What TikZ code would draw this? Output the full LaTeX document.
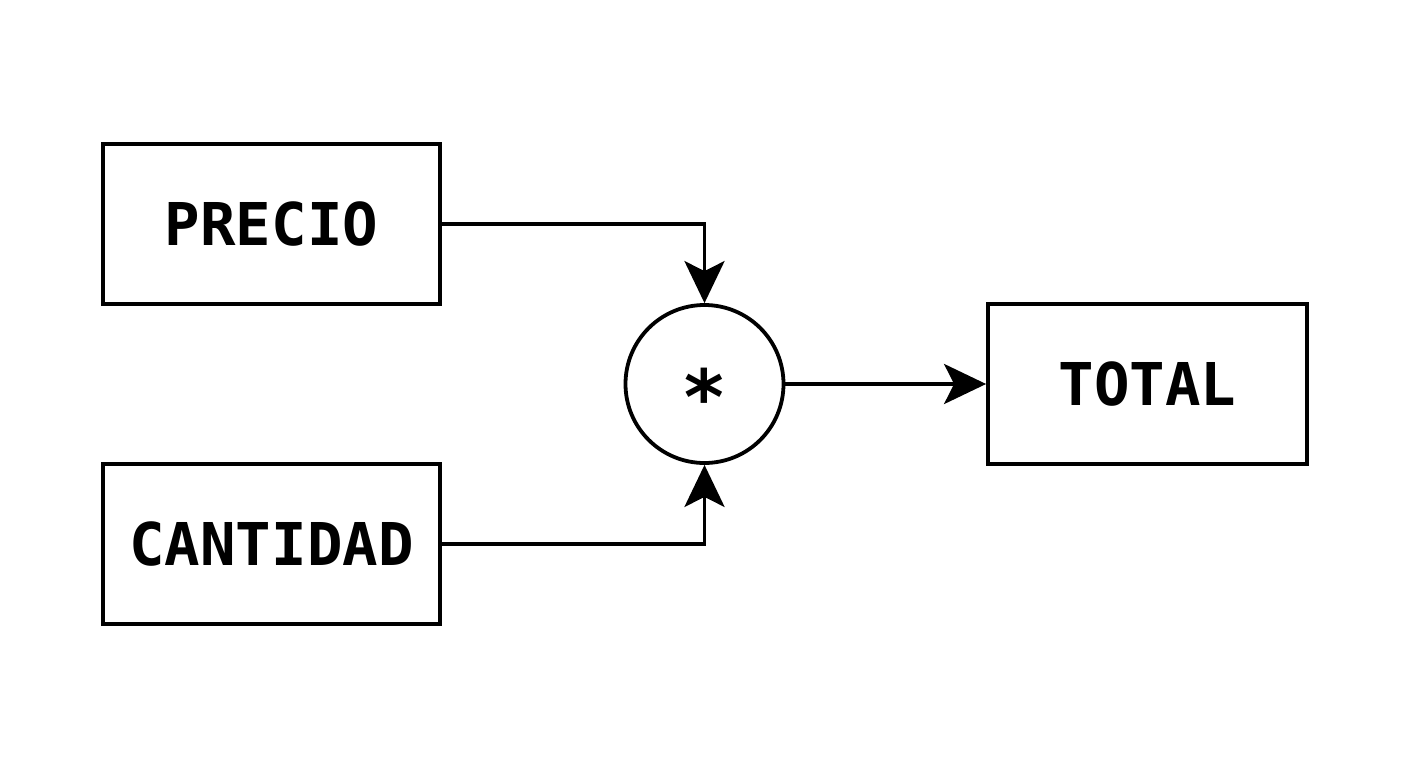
\documentclass[tikz,border=0pt]{standalone}
\usepackage{fontspec}
\setmonofont{DejaVu Sans Mono}
\usetikzlibrary{arrows.meta}
\begin{document}
\begin{tikzpicture}[x=1pt,y=-1pt,
  box/.style={draw=black, line width=3.8pt, minimum width=337pt, minimum height=160pt, inner sep=0pt, font=\ttfamily\bfseries\fontsize{59}{60}\selectfont},
  op/.style={draw=black, circle, line width=3.8pt, minimum size=158pt, inner sep=0pt},
  conn/.style={line width=3.8pt, -{Stealth[length=42pt, width=40pt, inset=10pt]}}]
\useasboundingbox[fill=white] (0,0) rectangle (1408,768);
\node[box] (precio) at (271.5,224) {PRECIO};
\node[box] (cantidad) at (271.5,544) {CANTIDAD};
\node[box, minimum width=319pt] (total) at (1147.5,384) {TOTAL};
\node[op] (mul) at (704.5,384) {};
\node at (704.5,396) [font=\ttfamily\bfseries\fontsize{76}{76}\selectfont] (star) {*};
\draw[conn] (precio.east) -| (mul.north);
\draw[conn] (cantidad.east) -| (mul.south);
\draw[conn] (mul.east) -- (total.west);
\end{tikzpicture}
\end{document}
